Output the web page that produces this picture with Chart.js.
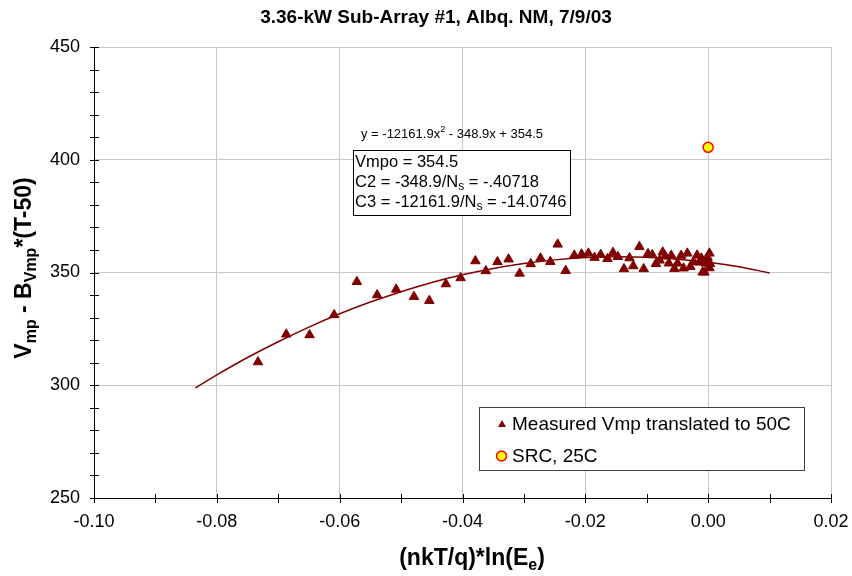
<!DOCTYPE html>
<html>
<head>
<meta charset="utf-8">
<script src="https://cdn.jsdelivr.net/npm/chart.js@4"></script>
<style>
  body { margin: 0; background: #fff; }
  #wrap { width: 852px; height: 576px; }
</style>
</head>
<body>
<div id="wrap"><canvas id="chart" width="852" height="576"></canvas></div>
<script>
// measured points
const measX = [-0.0733, -0.0687, -0.0649, -0.0609, -0.0572, -0.0539, -0.0508, -0.0479, -0.0454, -0.0427,
  -0.0403, -0.0379, -0.0362, -0.0343, -0.0325, -0.0307, -0.0289, -0.0273, -0.0257, -0.0245,
  -0.0232, -0.0218, -0.0206, -0.0195, -0.0185, -0.0175, -0.0164, -0.0155, -0.0147, -0.0137,
  -0.0128, -0.0122, -0.0112, -0.0105, -0.0098, -0.0091, -0.0085, -0.0079, -0.0074, -0.0070,
  -0.0064, -0.0060, -0.0055, -0.0050, -0.0044, -0.0040, -0.0034, -0.0029, -0.0024, -0.0018,
  -0.0014, -0.0011, -0.0009, -0.0006, -0.0004, -0.0003, -0.0001, 0.0002, 0.0002, 0.0003];
const measY = [310.3, 322.6, 322.3, 331.2, 345.9, 340.0, 342.5, 339.3, 337.5, 344.9,
  347.6, 355.1, 350.7, 354.7, 355.9, 349.6, 353.8, 356.3, 354.8, 362.5,
  350.8, 357.6, 358.1, 358.5, 356.6, 357.9, 356.1, 358.8, 357.0, 351.6,
  356.4, 352.9, 361.4, 351.6, 358.3, 357.8, 353.9, 355.4, 359.0, 357.2,
  354.1, 357.5, 351.7, 354.1, 357.5, 351.9, 358.5, 352.6, 354.7, 357.6,
  354.5, 356.3, 350.1, 350.1, 354.1, 355.5, 356.7, 358.5, 352.0, 353.9];

// SRC point
const srcX = [0.0];
const srcY = [405.5];

// trendline as drawn
const fitX = [-0.0835, -0.08, -0.075, -0.07, -0.065, -0.06, -0.055, -0.05, -0.045, -0.04,
  -0.035, -0.03, -0.025, -0.02, -0.015, -0.01, -0.005, 0, 0.005, 0.01];
const fitY = [298.8, 304.6, 312.3, 319.3, 325.8, 331.7, 336.9, 341.5, 345.6, 349.0,
  351.8, 354.0, 355.6, 356.6, 357.0, 356.8, 355.9, 354.5, 352.5, 349.8];

const chartTitle = "3.36-kW Sub-Array #1, Albq. NM, 7/9/03";
const legendLabels = ["Measured Vmp translated to 50C", "SRC, 25C"];

const toPts = (xs, ys) => xs.map((x, i) => ({ x: x, y: ys[i] }));

const FONT = "Arial, 'Liberation Sans', sans-serif";
const RED = "#800000";

// draws text pieces with sub/superscripts, returns width
function richText(ctx, parts, x, y, size, bold, measureOnly) {
  let cx = x;
  for (const p of parts) {
    const mode = p[1] || "n";
    const s = mode == "n" ? size : Math.round(size * 0.7);
    ctx.font = `${bold ? "bold " : ""}${s}px ${FONT}`;
    const dy = mode == "sub" ? size * 0.3 : (mode == "sup" ? -size * 0.35 : 0);
    if (!measureOnly) ctx.fillText(p[0], cx, y + dy);
    cx += ctx.measureText(p[0]).width;
  }
  return cx - x;
}

const decorPlugin = {
  id: "decor",
  afterDatasetsDraw(chart) {
    const ctx = chart.ctx;
    const xs = chart.scales.x, ys = chart.scales.y;
    const area = chart.chartArea;
    ctx.save();

    // tick marks crossing the axes
    ctx.strokeStyle = "#000";
    ctx.lineWidth = 1;
    ctx.beginPath();
    for (const t of ys.ticks) {
      const py = Math.round(ys.getPixelForValue(t.value)) + 0.5;
      ctx.moveTo(area.left - 4, py); ctx.lineTo(area.left + 5, py);
    }
    for (const t of xs.ticks) {
      const px = Math.round(xs.getPixelForValue(t.value)) + 0.5;
      ctx.moveTo(px, area.bottom - 4); ctx.lineTo(px, area.bottom + 5);
    }
    ctx.stroke();

    // equation of the fit
    ctx.fillStyle = "#000";
    ctx.textBaseline = "middle";
    ctx.textAlign = "left";
    richText(ctx, [["y = -12161.9x"], ["2", "sup"], [" - 348.9x + 354.5"]], 361, 134, 13, false);

    // coefficient box
    ctx.fillStyle = "#fff";
    ctx.fillRect(353, 150, 218, 66);
    ctx.strokeStyle = "#000";
    ctx.strokeRect(353.5, 150.5, 217, 65);
    ctx.fillStyle = "#000";
    richText(ctx, [["Vmpo = 354.5"]], 355, 162, 16.5, false);
    richText(ctx, [["C2 = -348.9/N"], ["s", "sub"], [" = -.40718"]], 355, 182, 16.5, false);
    richText(ctx, [["C3 = -12161.9/N"], ["s", "sub"], [" = -14.0746"]], 355, 202, 16.5, false);

    // legend
    ctx.fillStyle = "#fff";
    ctx.fillRect(479, 407, 326, 64);
    ctx.strokeStyle = "#404040";
    ctx.strokeRect(479.5, 407.5, 325, 63);
    ctx.fillStyle = RED;
    ctx.beginPath();
    ctx.moveTo(502, 420); ctx.lineTo(506, 427); ctx.lineTo(498, 427); ctx.closePath();
    ctx.fill();
    ctx.beginPath();
    ctx.arc(501.5, 456, 5, 0, Math.PI * 2);
    ctx.fillStyle = "#ffff00"; ctx.fill();
    ctx.strokeStyle = "#ff0000"; ctx.lineWidth = 1.5; ctx.stroke();
    ctx.fillStyle = "#000";
    ctx.font = `19px ${FONT}`;
    ctx.fillText(legendLabels[0], 512, 425);
    ctx.fillText(legendLabels[1], 512, 457);

    // titles
    ctx.textAlign = "center";
    ctx.font = `bold 19px ${FONT}`;
    ctx.fillText(chartTitle, 436, 18);

    ctx.textAlign = "left";
    const xParts = [["(nkT/q)*ln(E"], ["e", "sub"], [")"]];
    const xw = richText(ctx, xParts, 0, 0, 23, true, true);
    richText(ctx, xParts, 472 - xw / 2, 559, 23, true);

    const yParts = [["V"], ["mp", "sub"], [" - B"], ["Vmp", "sub"], ["*(T-50)"]];
    const yw = richText(ctx, yParts, 0, 0, 23, true, true);
    ctx.translate(25, 268);
    ctx.rotate(-Math.PI / 2);
    richText(ctx, yParts, -yw / 2, 0, 23, true);

    ctx.restore();
  }
};

const config = {
  type: "scatter",
  data: {
    datasets: [
      {
        label: legendLabels[0],
        data: toPts(measX, measY),
        pointStyle: "triangle",
        radius: 5.5,
        backgroundColor: RED,
        borderColor: RED,
        borderWidth: 1,
        order: 1
      },
      {
        label: legendLabels[1],
        data: toPts(srcX, srcY),
        pointStyle: "circle",
        radius: 5,
        backgroundColor: "#ffff00",
        borderColor: "#ff0000",
        borderWidth: 1.5,
        order: 0
      },
      {
        label: "fit",
        data: toPts(fitX, fitY),
        showLine: true,
        tension: 0.4,
        pointRadius: 0,
        borderColor: RED,
        borderWidth: 1.5,
        order: 2
      }
    ]
  },
  options: {
    responsive: false,
    animation: false,
    layout: { padding: { top: 47, right: 21, left: 0, bottom: 0 } },
    plugins: {
      legend: { display: false },
      title: { display: false },
      tooltip: { enabled: false }
    },
    scales: {
      x: {
        type: "linear",
        min: -0.10,
        max: 0.02,
        afterFit: s => { s.height = 78; s.paddingRight = 0; s.paddingLeft = 0; },
        ticks: {
          stepSize: 0.01,
          autoSkip: false,
          maxRotation: 0,
          padding: 13,
          color: "#000",
          font: { family: FONT, size: 18 },
          callback: v => {
            const k = Math.round(v * 100);
            if (k % 2 != 0) return "";
            return k == 0 ? "0.00" : (k / 100).toFixed(2);
          }
        },
        grid: {
          drawTicks: false,
          color: c => (Math.round(c.tick.value * 100) % 2 == 0 ? "#c8c8c8" : "rgba(0,0,0,0)")
        },
        border: { color: "#000", width: 1 }
      },
      y: {
        min: 250,
        max: 450,
        afterFit: s => { s.width = 94; },
        ticks: {
          stepSize: 10,
          autoSkip: false,
          padding: 14,
          color: "#000",
          font: { family: FONT, size: 18 },
          callback: v => (v % 50 == 0 ? String(v) : "")
        },
        grid: {
          drawTicks: false,
          color: c => (c.tick.value % 50 == 0 ? "#c8c8c8" : "rgba(0,0,0,0)")
        },
        border: { color: "#000", width: 1 }
      }
    }
  },
  plugins: [decorPlugin]
};

document.addEventListener("DOMContentLoaded", function () {
  new Chart(document.querySelector("#chart"), config);
});
</script>
</body>
</html>
